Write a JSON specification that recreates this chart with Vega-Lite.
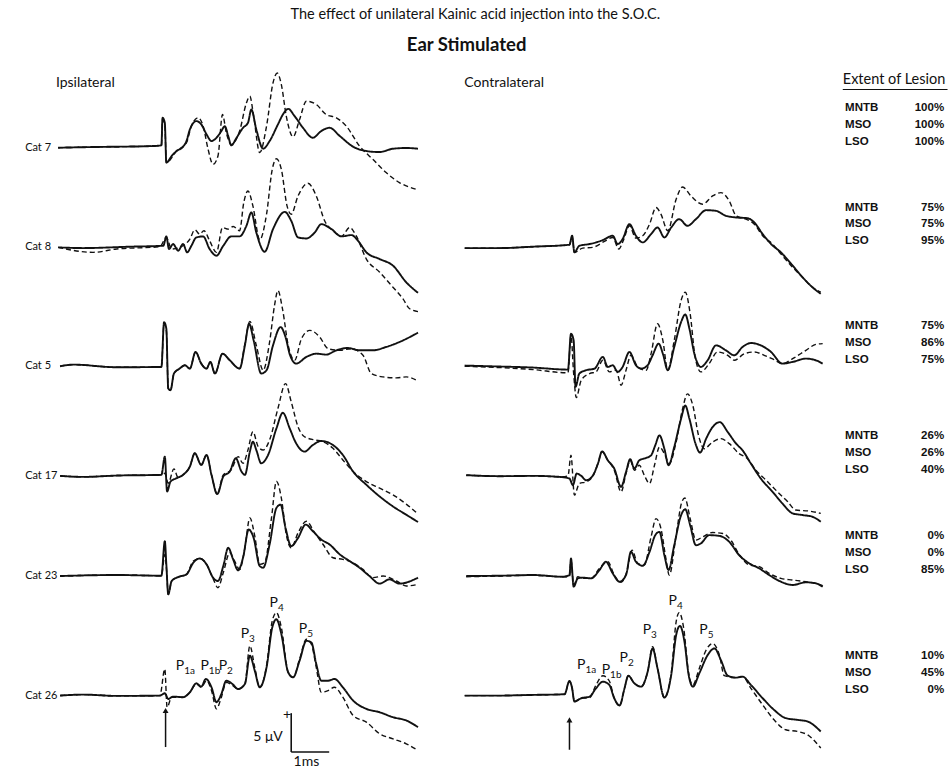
{
"$schema":"https://vega.github.io/schema/vega-lite/v6.json",
"width":949,"height":770,
"autosize":{"type":"fit","contains":"padding"},
"padding":0,
"background":"white",
"config":{"view":{"stroke":null},"text":{"font":"Lato","color":"#111"}},
"datasets":{
"traces":[
{"cat":7,"side":"ipsi","rec":"post","t":-2.81,"v":0},{"cat":7,"side":"ipsi","rec":"post","t":-1.71,"v":0.1},{"cat":7,"side":"ipsi","rec":"post","t":-0.39,"v":0.2},{"cat":7,"side":"ipsi","rec":"post","t":-0.09,"v":0.3},{"cat":7,"side":"ipsi","rec":"post","t":-0.06,"v":3.85},{"cat":7,"side":"ipsi","rec":"post","t":0,"v":3.2},{"cat":7,"side":"ipsi","rec":"post","t":0.04,"v":-1.92},{"cat":7,"side":"ipsi","rec":"post","t":0.18,"v":-1.07},{"cat":7,"side":"ipsi","rec":"post","t":0.31,"v":-0.43},{"cat":7,"side":"ipsi","rec":"post","t":0.48,"v":0.13},{"cat":7,"side":"ipsi","rec":"post","t":0.57,"v":0.85},{"cat":7,"side":"ipsi","rec":"post","t":0.66,"v":2.35},{"cat":7,"side":"ipsi","rec":"post","t":0.83,"v":3.42},{"cat":7,"side":"ipsi","rec":"post","t":0.96,"v":3.0},{"cat":7,"side":"ipsi","rec":"post","t":1.10,"v":1.71},{"cat":7,"side":"ipsi","rec":"post","t":1.23,"v":0.85},{"cat":7,"side":"ipsi","rec":"post","t":1.36,"v":1.28},{"cat":7,"side":"ipsi","rec":"post","t":1.49,"v":2.14},{"cat":7,"side":"ipsi","rec":"post","t":1.58,"v":2.78},{"cat":7,"side":"ipsi","rec":"post","t":1.67,"v":1.5},{"cat":7,"side":"ipsi","rec":"post","t":1.75,"v":0.3},{"cat":7,"side":"ipsi","rec":"post","t":1.89,"v":1.28},{"cat":7,"side":"ipsi","rec":"post","t":2.06,"v":2.56},{"cat":7,"side":"ipsi","rec":"post","t":2.19,"v":3.2},{"cat":7,"side":"ipsi","rec":"post","t":2.28,"v":4.91},{"cat":7,"side":"ipsi","rec":"post","t":2.41,"v":2.35},{"cat":7,"side":"ipsi","rec":"post","t":2.59,"v":-0.13},{"cat":7,"side":"ipsi","rec":"post","t":2.76,"v":0.85},{"cat":7,"side":"ipsi","rec":"post","t":2.98,"v":3.0},{"cat":7,"side":"ipsi","rec":"post","t":3.11,"v":4.27},{"cat":7,"side":"ipsi","rec":"post","t":3.25,"v":5.0},{"cat":7,"side":"ipsi","rec":"post","t":3.42,"v":4.06},{"cat":7,"side":"ipsi","rec":"post","t":3.64,"v":2.56},{"cat":7,"side":"ipsi","rec":"post","t":3.90,"v":1.28},{"cat":7,"side":"ipsi","rec":"post","t":4.12,"v":2.14},{"cat":7,"side":"ipsi","rec":"post","t":4.34,"v":2.56},{"cat":7,"side":"ipsi","rec":"post","t":4.61,"v":1.5},{"cat":7,"side":"ipsi","rec":"post","t":4.96,"v":0.13},{"cat":7,"side":"ipsi","rec":"post","t":5.31,"v":-0.43},{"cat":7,"side":"ipsi","rec":"post","t":5.66,"v":-0.56},{"cat":7,"side":"ipsi","rec":"post","t":6.01,"v":-0.13},{"cat":7,"side":"ipsi","rec":"post","t":6.36,"v":-0.04},{"cat":7,"side":"ipsi","rec":"post","t":6.67,"v":-0.13},
{"cat":7,"side":"ipsi","rec":"pre","t":-2.81,"v":0},{"cat":7,"side":"ipsi","rec":"pre","t":-1.71,"v":0.1},{"cat":7,"side":"ipsi","rec":"pre","t":-0.39,"v":0.2},{"cat":7,"side":"ipsi","rec":"pre","t":-0.09,"v":0.3},{"cat":7,"side":"ipsi","rec":"pre","t":-0.06,"v":3.6},{"cat":7,"side":"ipsi","rec":"pre","t":0,"v":3.0},{"cat":7,"side":"ipsi","rec":"pre","t":0.04,"v":-1.92},{"cat":7,"side":"ipsi","rec":"pre","t":0.31,"v":-0.43},{"cat":7,"side":"ipsi","rec":"pre","t":0.57,"v":0.64},{"cat":7,"side":"ipsi","rec":"pre","t":0.70,"v":2.78},{"cat":7,"side":"ipsi","rec":"pre","t":0.88,"v":3.85},{"cat":7,"side":"ipsi","rec":"pre","t":1.01,"v":2.78},{"cat":7,"side":"ipsi","rec":"pre","t":1.14,"v":-0.21},{"cat":7,"side":"ipsi","rec":"pre","t":1.27,"v":-2.14},{"cat":7,"side":"ipsi","rec":"pre","t":1.40,"v":-1.07},{"cat":7,"side":"ipsi","rec":"pre","t":1.52,"v":4.27},{"cat":7,"side":"ipsi","rec":"pre","t":1.62,"v":1.92},{"cat":7,"side":"ipsi","rec":"pre","t":1.75,"v":0.43},{"cat":7,"side":"ipsi","rec":"pre","t":1.97,"v":2.14},{"cat":7,"side":"ipsi","rec":"pre","t":2.15,"v":5.77},{"cat":7,"side":"ipsi","rec":"pre","t":2.24,"v":6.62},{"cat":7,"side":"ipsi","rec":"pre","t":2.34,"v":4.06},{"cat":7,"side":"ipsi","rec":"pre","t":2.50,"v":-0.64},{"cat":7,"side":"ipsi","rec":"pre","t":2.68,"v":2.78},{"cat":7,"side":"ipsi","rec":"pre","t":2.85,"v":8.33},{"cat":7,"side":"ipsi","rec":"pre","t":2.96,"v":9.62},{"cat":7,"side":"ipsi","rec":"pre","t":3.07,"v":8.12},{"cat":7,"side":"ipsi","rec":"pre","t":3.20,"v":4.06},{"cat":7,"side":"ipsi","rec":"pre","t":3.38,"v":1.41},{"cat":7,"side":"ipsi","rec":"pre","t":3.55,"v":3.63},{"cat":7,"side":"ipsi","rec":"pre","t":3.73,"v":5.98},{"cat":7,"side":"ipsi","rec":"pre","t":3.99,"v":5.56},{"cat":7,"side":"ipsi","rec":"pre","t":4.25,"v":4.27},{"cat":7,"side":"ipsi","rec":"pre","t":4.52,"v":3.85},{"cat":7,"side":"ipsi","rec":"pre","t":4.78,"v":2.78},{"cat":7,"side":"ipsi","rec":"pre","t":5.13,"v":0.21},{"cat":7,"side":"ipsi","rec":"pre","t":5.48,"v":-1.5},{"cat":7,"side":"ipsi","rec":"pre","t":5.83,"v":-3.2},{"cat":7,"side":"ipsi","rec":"pre","t":6.18,"v":-4.49},{"cat":7,"side":"ipsi","rec":"pre","t":6.62,"v":-5.34},
{"cat":8,"side":"ipsi","rec":"post","t":-2.81,"v":0},{"cat":8,"side":"ipsi","rec":"post","t":-2.15,"v":-0.09},{"cat":8,"side":"ipsi","rec":"post","t":-0.92,"v":0.09},{"cat":8,"side":"ipsi","rec":"post","t":-0.04,"v":0.21},{"cat":8,"side":"ipsi","rec":"post","t":0.04,"v":1.41},{"cat":8,"side":"ipsi","rec":"post","t":0.11,"v":-0.21},{"cat":8,"side":"ipsi","rec":"post","t":0.22,"v":0.43},{"cat":8,"side":"ipsi","rec":"post","t":0.35,"v":-0.43},{"cat":8,"side":"ipsi","rec":"post","t":0.48,"v":0.43},{"cat":8,"side":"ipsi","rec":"post","t":0.59,"v":-0.64},{"cat":8,"side":"ipsi","rec":"post","t":0.70,"v":0.21},{"cat":8,"side":"ipsi","rec":"post","t":0.83,"v":1.28},{"cat":8,"side":"ipsi","rec":"post","t":1.01,"v":1.41},{"cat":8,"side":"ipsi","rec":"post","t":1.18,"v":-0.21},{"cat":8,"side":"ipsi","rec":"post","t":1.36,"v":-1.07},{"cat":8,"side":"ipsi","rec":"post","t":1.54,"v":0.21},{"cat":8,"side":"ipsi","rec":"post","t":1.75,"v":1.41},{"cat":8,"side":"ipsi","rec":"post","t":1.97,"v":1.41},{"cat":8,"side":"ipsi","rec":"post","t":2.15,"v":2.78},{"cat":8,"side":"ipsi","rec":"post","t":2.28,"v":4.49},{"cat":8,"side":"ipsi","rec":"post","t":2.41,"v":1.92},{"cat":8,"side":"ipsi","rec":"post","t":2.63,"v":-0.56},{"cat":8,"side":"ipsi","rec":"post","t":2.85,"v":2.35},{"cat":8,"side":"ipsi","rec":"post","t":3.16,"v":4.57},{"cat":8,"side":"ipsi","rec":"post","t":3.33,"v":3.42},{"cat":8,"side":"ipsi","rec":"post","t":3.51,"v":1.28},{"cat":8,"side":"ipsi","rec":"post","t":3.73,"v":1.15},{"cat":8,"side":"ipsi","rec":"post","t":3.95,"v":1.92},{"cat":8,"side":"ipsi","rec":"post","t":4.12,"v":2.99},{"cat":8,"side":"ipsi","rec":"post","t":4.39,"v":2.35},{"cat":8,"side":"ipsi","rec":"post","t":4.65,"v":1.41},{"cat":8,"side":"ipsi","rec":"post","t":4.92,"v":1.58},{"cat":8,"side":"ipsi","rec":"post","t":5.09,"v":0.85},{"cat":8,"side":"ipsi","rec":"post","t":5.31,"v":-0.64},{"cat":8,"side":"ipsi","rec":"post","t":5.66,"v":-1.5},{"cat":8,"side":"ipsi","rec":"post","t":6.01,"v":-2.35},{"cat":8,"side":"ipsi","rec":"post","t":6.36,"v":-4.49},{"cat":8,"side":"ipsi","rec":"post","t":6.67,"v":-5.85},
{"cat":8,"side":"ipsi","rec":"pre","t":-2.81,"v":0},{"cat":8,"side":"ipsi","rec":"pre","t":-1.89,"v":-0.64},{"cat":8,"side":"ipsi","rec":"pre","t":-1.27,"v":-0.21},{"cat":8,"side":"ipsi","rec":"pre","t":-0.13,"v":0.09},{"cat":8,"side":"ipsi","rec":"pre","t":0.04,"v":1.28},{"cat":8,"side":"ipsi","rec":"pre","t":0.18,"v":-0.21},{"cat":8,"side":"ipsi","rec":"pre","t":0.48,"v":0.21},{"cat":8,"side":"ipsi","rec":"pre","t":0.66,"v":1.07},{"cat":8,"side":"ipsi","rec":"pre","t":0.79,"v":2.26},{"cat":8,"side":"ipsi","rec":"pre","t":0.92,"v":1.71},{"cat":8,"side":"ipsi","rec":"pre","t":1.03,"v":2.14},{"cat":8,"side":"ipsi","rec":"pre","t":1.18,"v":0.85},{"cat":8,"side":"ipsi","rec":"pre","t":1.36,"v":-0.64},{"cat":8,"side":"ipsi","rec":"pre","t":1.52,"v":2.56},{"cat":8,"side":"ipsi","rec":"pre","t":1.67,"v":2.35},{"cat":8,"side":"ipsi","rec":"pre","t":1.80,"v":2.69},{"cat":8,"side":"ipsi","rec":"pre","t":1.97,"v":2.14},{"cat":8,"side":"ipsi","rec":"pre","t":2.08,"v":5.77},{"cat":8,"side":"ipsi","rec":"pre","t":2.19,"v":7.26},{"cat":8,"side":"ipsi","rec":"pre","t":2.32,"v":5.34},{"cat":8,"side":"ipsi","rec":"pre","t":2.50,"v":0.98},{"cat":8,"side":"ipsi","rec":"pre","t":2.68,"v":4.27},{"cat":8,"side":"ipsi","rec":"pre","t":2.83,"v":10.04},{"cat":8,"side":"ipsi","rec":"pre","t":2.94,"v":11.41},{"cat":8,"side":"ipsi","rec":"pre","t":3.07,"v":10.04},{"cat":8,"side":"ipsi","rec":"pre","t":3.22,"v":5.34},{"cat":8,"side":"ipsi","rec":"pre","t":3.33,"v":4.27},{"cat":8,"side":"ipsi","rec":"pre","t":3.51,"v":6.62},{"cat":8,"side":"ipsi","rec":"pre","t":3.77,"v":8.25},{"cat":8,"side":"ipsi","rec":"pre","t":3.99,"v":6.62},{"cat":8,"side":"ipsi","rec":"pre","t":4.21,"v":3.42},{"cat":8,"side":"ipsi","rec":"pre","t":4.43,"v":2.14},{"cat":8,"side":"ipsi","rec":"pre","t":4.65,"v":1.41},{"cat":8,"side":"ipsi","rec":"pre","t":4.87,"v":2.56},{"cat":8,"side":"ipsi","rec":"pre","t":5.04,"v":1.5},{"cat":8,"side":"ipsi","rec":"pre","t":5.31,"v":-1.5},{"cat":8,"side":"ipsi","rec":"pre","t":5.66,"v":-3.2},{"cat":8,"side":"ipsi","rec":"pre","t":6.01,"v":-5.13},{"cat":8,"side":"ipsi","rec":"pre","t":6.27,"v":-6.6},{"cat":8,"side":"ipsi","rec":"pre","t":6.45,"v":-7.9},{"cat":8,"side":"ipsi","rec":"pre","t":6.71,"v":-8.3},
{"cat":5,"side":"ipsi","rec":"post","t":-2.76,"v":0},{"cat":5,"side":"ipsi","rec":"post","t":-2.41,"v":0.21},{"cat":5,"side":"ipsi","rec":"post","t":-1.27,"v":-0.13},{"cat":5,"side":"ipsi","rec":"post","t":-0.09,"v":-0.09},{"cat":5,"side":"ipsi","rec":"post","t":-0.02,"v":5.68},{"cat":5,"side":"ipsi","rec":"post","t":0.04,"v":4.83},{"cat":5,"side":"ipsi","rec":"post","t":0.09,"v":-2.86},{"cat":5,"side":"ipsi","rec":"post","t":0.15,"v":-3.08},{"cat":5,"side":"ipsi","rec":"post","t":0.24,"v":-0.94},{"cat":5,"side":"ipsi","rec":"post","t":0.39,"v":-0.3},{"cat":5,"side":"ipsi","rec":"post","t":0.53,"v":0.13},{"cat":5,"side":"ipsi","rec":"post","t":0.66,"v":-0.3},{"cat":5,"side":"ipsi","rec":"post","t":0.81,"v":1.84},{"cat":5,"side":"ipsi","rec":"post","t":0.96,"v":0.34},{"cat":5,"side":"ipsi","rec":"post","t":1.10,"v":-0.3},{"cat":5,"side":"ipsi","rec":"post","t":1.20,"v":0.56},{"cat":5,"side":"ipsi","rec":"post","t":1.32,"v":-0.94},{"cat":5,"side":"ipsi","rec":"post","t":1.52,"v":1.62},{"cat":5,"side":"ipsi","rec":"post","t":1.71,"v":0.77},{"cat":5,"side":"ipsi","rec":"post","t":1.97,"v":-0.3},{"cat":5,"side":"ipsi","rec":"post","t":2.11,"v":2.69},{"cat":5,"side":"ipsi","rec":"post","t":2.22,"v":5.47},{"cat":5,"side":"ipsi","rec":"post","t":2.34,"v":3.33},{"cat":5,"side":"ipsi","rec":"post","t":2.54,"v":-0.94},{"cat":5,"side":"ipsi","rec":"post","t":2.68,"v":-0.51},{"cat":5,"side":"ipsi","rec":"post","t":2.85,"v":2.69},{"cat":5,"side":"ipsi","rec":"post","t":3.05,"v":5.04},{"cat":5,"side":"ipsi","rec":"post","t":3.18,"v":3.76},{"cat":5,"side":"ipsi","rec":"post","t":3.30,"v":1.41},{"cat":5,"side":"ipsi","rec":"post","t":3.46,"v":0.34},{"cat":5,"side":"ipsi","rec":"post","t":3.73,"v":1.2},{"cat":5,"side":"ipsi","rec":"post","t":3.99,"v":1.62},{"cat":5,"side":"ipsi","rec":"post","t":4.25,"v":1.5},{"cat":5,"side":"ipsi","rec":"post","t":4.52,"v":2.05},{"cat":5,"side":"ipsi","rec":"post","t":4.82,"v":2.35},{"cat":5,"side":"ipsi","rec":"post","t":5.13,"v":2.05},{"cat":5,"side":"ipsi","rec":"post","t":5.48,"v":2.05},{"cat":5,"side":"ipsi","rec":"post","t":5.83,"v":2.48},{"cat":5,"side":"ipsi","rec":"post","t":6.18,"v":3.12},{"cat":5,"side":"ipsi","rec":"post","t":6.67,"v":4.32},
{"cat":5,"side":"ipsi","rec":"pre","t":-2.76,"v":0},{"cat":5,"side":"ipsi","rec":"pre","t":-2.41,"v":0.21},{"cat":5,"side":"ipsi","rec":"pre","t":-1.27,"v":-0.13},{"cat":5,"side":"ipsi","rec":"pre","t":-0.09,"v":-0.09},{"cat":5,"side":"ipsi","rec":"pre","t":-0.02,"v":5.5},{"cat":5,"side":"ipsi","rec":"pre","t":0.04,"v":4.6},{"cat":5,"side":"ipsi","rec":"pre","t":0.09,"v":-2.86},{"cat":5,"side":"ipsi","rec":"pre","t":0.15,"v":-3.08},{"cat":5,"side":"ipsi","rec":"pre","t":0.24,"v":-0.94},{"cat":5,"side":"ipsi","rec":"pre","t":0.39,"v":-0.3},{"cat":5,"side":"ipsi","rec":"pre","t":0.53,"v":0.13},{"cat":5,"side":"ipsi","rec":"pre","t":0.66,"v":-0.3},{"cat":5,"side":"ipsi","rec":"pre","t":0.81,"v":1.84},{"cat":5,"side":"ipsi","rec":"pre","t":0.96,"v":0.34},{"cat":5,"side":"ipsi","rec":"pre","t":1.10,"v":-0.3},{"cat":5,"side":"ipsi","rec":"pre","t":1.20,"v":0.56},{"cat":5,"side":"ipsi","rec":"pre","t":1.32,"v":-0.94},{"cat":5,"side":"ipsi","rec":"pre","t":1.52,"v":1.62},{"cat":5,"side":"ipsi","rec":"pre","t":1.71,"v":0.77},{"cat":5,"side":"ipsi","rec":"pre","t":1.97,"v":-0.3},{"cat":5,"side":"ipsi","rec":"pre","t":2.11,"v":2.9},{"cat":5,"side":"ipsi","rec":"pre","t":2.24,"v":5.77},{"cat":5,"side":"ipsi","rec":"pre","t":2.41,"v":2.69},{"cat":5,"side":"ipsi","rec":"pre","t":2.59,"v":-0.51},{"cat":5,"side":"ipsi","rec":"pre","t":2.76,"v":3.12},{"cat":5,"side":"ipsi","rec":"pre","t":2.89,"v":7.82},{"cat":5,"side":"ipsi","rec":"pre","t":2.98,"v":9.74},{"cat":5,"side":"ipsi","rec":"pre","t":3.10,"v":7.39},{"cat":5,"side":"ipsi","rec":"pre","t":3.25,"v":2.69},{"cat":5,"side":"ipsi","rec":"pre","t":3.42,"v":0.77},{"cat":5,"side":"ipsi","rec":"pre","t":3.60,"v":3.55},{"cat":5,"side":"ipsi","rec":"pre","t":3.82,"v":4.62},{"cat":5,"side":"ipsi","rec":"pre","t":4.08,"v":3.76},{"cat":5,"side":"ipsi","rec":"pre","t":4.30,"v":2.26},{"cat":5,"side":"ipsi","rec":"pre","t":4.61,"v":2.05},{"cat":5,"side":"ipsi","rec":"pre","t":4.91,"v":2.26},{"cat":5,"side":"ipsi","rec":"pre","t":5.22,"v":1.41},{"cat":5,"side":"ipsi","rec":"pre","t":5.44,"v":-0.94},{"cat":5,"side":"ipsi","rec":"pre","t":5.75,"v":-1.37},{"cat":5,"side":"ipsi","rec":"pre","t":6.10,"v":-1.5},{"cat":5,"side":"ipsi","rec":"pre","t":6.36,"v":-1.37},{"cat":5,"side":"ipsi","rec":"pre","t":6.67,"v":-1.92},
{"cat":17,"side":"ipsi","rec":"post","t":-2.76,"v":0},{"cat":17,"side":"ipsi","rec":"post","t":-2.15,"v":-0.13},{"cat":17,"side":"ipsi","rec":"post","t":-1.27,"v":0.04},{"cat":17,"side":"ipsi","rec":"post","t":-0.09,"v":0.13},{"cat":17,"side":"ipsi","rec":"post","t":0,"v":2.48},{"cat":17,"side":"ipsi","rec":"post","t":0.06,"v":-2.01},{"cat":17,"side":"ipsi","rec":"post","t":0.15,"v":-0.73},{"cat":17,"side":"ipsi","rec":"post","t":0.31,"v":-0.3},{"cat":17,"side":"ipsi","rec":"post","t":0.48,"v":0.13},{"cat":17,"side":"ipsi","rec":"post","t":0.66,"v":1.2},{"cat":17,"side":"ipsi","rec":"post","t":0.79,"v":2.91},{"cat":17,"side":"ipsi","rec":"post","t":0.96,"v":1.41},{"cat":17,"side":"ipsi","rec":"post","t":1.10,"v":2.69},{"cat":17,"side":"ipsi","rec":"post","t":1.23,"v":0.13},{"cat":17,"side":"ipsi","rec":"post","t":1.38,"v":-2.35},{"cat":17,"side":"ipsi","rec":"post","t":1.54,"v":-0.09},{"cat":17,"side":"ipsi","rec":"post","t":1.71,"v":0.56},{"cat":17,"side":"ipsi","rec":"post","t":1.87,"v":2.26},{"cat":17,"side":"ipsi","rec":"post","t":2.02,"v":0.56},{"cat":17,"side":"ipsi","rec":"post","t":2.11,"v":0.13},{"cat":17,"side":"ipsi","rec":"post","t":2.24,"v":3.12},{"cat":17,"side":"ipsi","rec":"post","t":2.32,"v":4.4},{"cat":17,"side":"ipsi","rec":"post","t":2.41,"v":3.33},{"cat":17,"side":"ipsi","rec":"post","t":2.54,"v":1.62},{"cat":17,"side":"ipsi","rec":"post","t":2.72,"v":2.69},{"cat":17,"side":"ipsi","rec":"post","t":2.94,"v":6.11},{"cat":17,"side":"ipsi","rec":"post","t":3.11,"v":8.12},{"cat":17,"side":"ipsi","rec":"post","t":3.29,"v":6.11},{"cat":17,"side":"ipsi","rec":"post","t":3.46,"v":4.19},{"cat":17,"side":"ipsi","rec":"post","t":3.68,"v":3.12},{"cat":17,"side":"ipsi","rec":"post","t":3.90,"v":3.97},{"cat":17,"side":"ipsi","rec":"post","t":4.12,"v":4.49},{"cat":17,"side":"ipsi","rec":"post","t":4.43,"v":3.97},{"cat":17,"side":"ipsi","rec":"post","t":4.69,"v":2.69},{"cat":17,"side":"ipsi","rec":"post","t":4.96,"v":0.56},{"cat":17,"side":"ipsi","rec":"post","t":5.31,"v":-1.15},{"cat":17,"side":"ipsi","rec":"post","t":5.66,"v":-2.65},{"cat":17,"side":"ipsi","rec":"post","t":6.01,"v":-3.93},{"cat":17,"side":"ipsi","rec":"post","t":6.36,"v":-5.0},{"cat":17,"side":"ipsi","rec":"post","t":6.67,"v":-5.94},
{"cat":17,"side":"ipsi","rec":"pre","t":-2.76,"v":0},{"cat":17,"side":"ipsi","rec":"pre","t":-2.15,"v":-0.13},{"cat":17,"side":"ipsi","rec":"pre","t":-1.27,"v":0.04},{"cat":17,"side":"ipsi","rec":"pre","t":-0.09,"v":0.13},{"cat":17,"side":"ipsi","rec":"pre","t":0,"v":0.34},{"cat":17,"side":"ipsi","rec":"pre","t":0.09,"v":-0.94},{"cat":17,"side":"ipsi","rec":"pre","t":0.24,"v":0.9},{"cat":17,"side":"ipsi","rec":"pre","t":0.35,"v":-0.21},{"cat":17,"side":"ipsi","rec":"pre","t":0.48,"v":0.13},{"cat":17,"side":"ipsi","rec":"pre","t":0.66,"v":1.2},{"cat":17,"side":"ipsi","rec":"pre","t":0.79,"v":2.91},{"cat":17,"side":"ipsi","rec":"pre","t":0.96,"v":1.41},{"cat":17,"side":"ipsi","rec":"pre","t":1.10,"v":2.69},{"cat":17,"side":"ipsi","rec":"pre","t":1.23,"v":0.13},{"cat":17,"side":"ipsi","rec":"pre","t":1.38,"v":-2.35},{"cat":17,"side":"ipsi","rec":"pre","t":1.54,"v":0.13},{"cat":17,"side":"ipsi","rec":"pre","t":1.75,"v":0.77},{"cat":17,"side":"ipsi","rec":"pre","t":1.93,"v":2.48},{"cat":17,"side":"ipsi","rec":"pre","t":2.06,"v":1.62},{"cat":17,"side":"ipsi","rec":"pre","t":2.19,"v":3.33},{"cat":17,"side":"ipsi","rec":"pre","t":2.32,"v":5.68},{"cat":17,"side":"ipsi","rec":"pre","t":2.46,"v":3.76},{"cat":17,"side":"ipsi","rec":"pre","t":2.59,"v":3.33},{"cat":17,"side":"ipsi","rec":"pre","t":2.76,"v":4.62},{"cat":17,"side":"ipsi","rec":"pre","t":2.98,"v":8.68},{"cat":17,"side":"ipsi","rec":"pre","t":3.18,"v":11.88},{"cat":17,"side":"ipsi","rec":"pre","t":3.33,"v":9.53},{"cat":17,"side":"ipsi","rec":"pre","t":3.51,"v":6.32},{"cat":17,"side":"ipsi","rec":"pre","t":3.68,"v":5.04},{"cat":17,"side":"ipsi","rec":"pre","t":3.95,"v":4.62},{"cat":17,"side":"ipsi","rec":"pre","t":4.17,"v":4.4},{"cat":17,"side":"ipsi","rec":"pre","t":4.43,"v":3.55},{"cat":17,"side":"ipsi","rec":"pre","t":4.69,"v":2.05},{"cat":17,"side":"ipsi","rec":"pre","t":4.96,"v":0.56},{"cat":17,"side":"ipsi","rec":"pre","t":5.31,"v":-0.73},{"cat":17,"side":"ipsi","rec":"pre","t":5.66,"v":-1.58},{"cat":17,"side":"ipsi","rec":"pre","t":6.01,"v":-2.44},{"cat":17,"side":"ipsi","rec":"pre","t":6.36,"v":-3.63},{"cat":17,"side":"ipsi","rec":"pre","t":6.67,"v":-4.91},
{"cat":23,"side":"ipsi","rec":"post","t":-2.76,"v":0},{"cat":23,"side":"ipsi","rec":"post","t":-1.27,"v":0.13},{"cat":23,"side":"ipsi","rec":"post","t":-0.09,"v":0.04},{"cat":23,"side":"ipsi","rec":"post","t":0,"v":4.49},{"cat":23,"side":"ipsi","rec":"post","t":0.04,"v":1.5},{"cat":23,"side":"ipsi","rec":"post","t":0.09,"v":-2.35},{"cat":23,"side":"ipsi","rec":"post","t":0.18,"v":-0.64},{"cat":23,"side":"ipsi","rec":"post","t":0.35,"v":-0.13},{"cat":23,"side":"ipsi","rec":"post","t":0.57,"v":0.21},{"cat":23,"side":"ipsi","rec":"post","t":0.75,"v":1.71},{"cat":23,"side":"ipsi","rec":"post","t":0.92,"v":2.26},{"cat":23,"side":"ipsi","rec":"post","t":1.10,"v":1.5},{"cat":23,"side":"ipsi","rec":"post","t":1.27,"v":-0.21},{"cat":23,"side":"ipsi","rec":"post","t":1.40,"v":-0.64},{"cat":23,"side":"ipsi","rec":"post","t":1.54,"v":1.28},{"cat":23,"side":"ipsi","rec":"post","t":1.67,"v":3.63},{"cat":23,"side":"ipsi","rec":"post","t":1.80,"v":2.14},{"cat":23,"side":"ipsi","rec":"post","t":1.93,"v":0.73},{"cat":23,"side":"ipsi","rec":"post","t":2.06,"v":2.35},{"cat":23,"side":"ipsi","rec":"post","t":2.21,"v":5.98},{"cat":23,"side":"ipsi","rec":"post","t":2.34,"v":4.91},{"cat":23,"side":"ipsi","rec":"post","t":2.50,"v":1.28},{"cat":23,"side":"ipsi","rec":"post","t":2.59,"v":1.07},{"cat":23,"side":"ipsi","rec":"post","t":2.76,"v":4.06},{"cat":23,"side":"ipsi","rec":"post","t":2.94,"v":8.76},{"cat":23,"side":"ipsi","rec":"post","t":3.05,"v":9.19},{"cat":23,"side":"ipsi","rec":"post","t":3.18,"v":6.2},{"cat":23,"side":"ipsi","rec":"post","t":3.33,"v":3.85},{"cat":23,"side":"ipsi","rec":"post","t":3.51,"v":4.91},{"cat":23,"side":"ipsi","rec":"post","t":3.71,"v":6.62},{"cat":23,"side":"ipsi","rec":"post","t":3.90,"v":5.77},{"cat":23,"side":"ipsi","rec":"post","t":4.12,"v":4.7},{"cat":23,"side":"ipsi","rec":"post","t":4.34,"v":4.06},{"cat":23,"side":"ipsi","rec":"post","t":4.61,"v":2.78},{"cat":23,"side":"ipsi","rec":"post","t":4.87,"v":1.92},{"cat":23,"side":"ipsi","rec":"post","t":5.13,"v":1.07},{"cat":23,"side":"ipsi","rec":"post","t":5.39,"v":0},{"cat":23,"side":"ipsi","rec":"post","t":5.66,"v":-0.98},{"cat":23,"side":"ipsi","rec":"post","t":5.92,"v":-0.43},{"cat":23,"side":"ipsi","rec":"post","t":6.18,"v":-0.98},{"cat":23,"side":"ipsi","rec":"post","t":6.67,"v":-0.21},
{"cat":23,"side":"ipsi","rec":"pre","t":-2.76,"v":0},{"cat":23,"side":"ipsi","rec":"pre","t":-1.27,"v":0.13},{"cat":23,"side":"ipsi","rec":"pre","t":-0.09,"v":0.04},{"cat":23,"side":"ipsi","rec":"pre","t":0,"v":2.78},{"cat":23,"side":"ipsi","rec":"pre","t":0.05,"v":0.5},{"cat":23,"side":"ipsi","rec":"pre","t":0.09,"v":-2.35},{"cat":23,"side":"ipsi","rec":"pre","t":0.18,"v":-0.64},{"cat":23,"side":"ipsi","rec":"pre","t":0.35,"v":-0.13},{"cat":23,"side":"ipsi","rec":"pre","t":0.57,"v":0.21},{"cat":23,"side":"ipsi","rec":"pre","t":0.75,"v":1.92},{"cat":23,"side":"ipsi","rec":"pre","t":0.92,"v":2.26},{"cat":23,"side":"ipsi","rec":"pre","t":1.10,"v":1.5},{"cat":23,"side":"ipsi","rec":"pre","t":1.27,"v":-0.3},{"cat":23,"side":"ipsi","rec":"pre","t":1.40,"v":-1.5},{"cat":23,"side":"ipsi","rec":"pre","t":1.54,"v":0.43},{"cat":23,"side":"ipsi","rec":"pre","t":1.71,"v":2.99},{"cat":23,"side":"ipsi","rec":"pre","t":1.84,"v":1.92},{"cat":23,"side":"ipsi","rec":"pre","t":1.97,"v":0.85},{"cat":23,"side":"ipsi","rec":"pre","t":2.11,"v":3.63},{"cat":23,"side":"ipsi","rec":"pre","t":2.24,"v":7.48},{"cat":23,"side":"ipsi","rec":"pre","t":2.37,"v":5.13},{"cat":23,"side":"ipsi","rec":"pre","t":2.50,"v":1.5},{"cat":23,"side":"ipsi","rec":"pre","t":2.63,"v":1.71},{"cat":23,"side":"ipsi","rec":"pre","t":2.81,"v":7.48},{"cat":23,"side":"ipsi","rec":"pre","t":2.94,"v":12.18},{"cat":23,"side":"ipsi","rec":"pre","t":3.07,"v":10.04},{"cat":23,"side":"ipsi","rec":"pre","t":3.20,"v":5.34},{"cat":23,"side":"ipsi","rec":"pre","t":3.33,"v":3.63},{"cat":23,"side":"ipsi","rec":"pre","t":3.51,"v":5.56},{"cat":23,"side":"ipsi","rec":"pre","t":3.73,"v":7.05},{"cat":23,"side":"ipsi","rec":"pre","t":3.95,"v":5.56},{"cat":23,"side":"ipsi","rec":"pre","t":4.17,"v":4.06},{"cat":23,"side":"ipsi","rec":"pre","t":4.43,"v":2.35},{"cat":23,"side":"ipsi","rec":"pre","t":4.69,"v":2.14},{"cat":23,"side":"ipsi","rec":"pre","t":4.96,"v":1.71},{"cat":23,"side":"ipsi","rec":"pre","t":5.22,"v":0.85},{"cat":23,"side":"ipsi","rec":"pre","t":5.48,"v":-0.21},{"cat":23,"side":"ipsi","rec":"pre","t":5.75,"v":0},{"cat":23,"side":"ipsi","rec":"pre","t":6.10,"v":-0.64},{"cat":23,"side":"ipsi","rec":"pre","t":6.36,"v":-1.28},{"cat":23,"side":"ipsi","rec":"pre","t":6.67,"v":-1.07},
{"cat":26,"side":"ipsi","rec":"post","t":-2.76,"v":0},{"cat":26,"side":"ipsi","rec":"post","t":-2.15,"v":0.13},{"cat":26,"side":"ipsi","rec":"post","t":-1.27,"v":-0.04},{"cat":26,"side":"ipsi","rec":"post","t":-0.13,"v":0},{"cat":26,"side":"ipsi","rec":"post","t":0,"v":0.3},{"cat":26,"side":"ipsi","rec":"post","t":0.09,"v":-0.43},{"cat":26,"side":"ipsi","rec":"post","t":0.22,"v":-0.13},{"cat":26,"side":"ipsi","rec":"post","t":0.48,"v":-0.21},{"cat":26,"side":"ipsi","rec":"post","t":0.66,"v":0.43},{"cat":26,"side":"ipsi","rec":"post","t":0.83,"v":1.58},{"cat":26,"side":"ipsi","rec":"post","t":0.96,"v":1.15},{"cat":26,"side":"ipsi","rec":"post","t":1.08,"v":2.14},{"cat":26,"side":"ipsi","rec":"post","t":1.23,"v":1.07},{"cat":26,"side":"ipsi","rec":"post","t":1.36,"v":-0.85},{"cat":26,"side":"ipsi","rec":"post","t":1.49,"v":0.21},{"cat":26,"side":"ipsi","rec":"post","t":1.62,"v":1.92},{"cat":26,"side":"ipsi","rec":"post","t":1.78,"v":1.5},{"cat":26,"side":"ipsi","rec":"post","t":1.93,"v":0.85},{"cat":26,"side":"ipsi","rec":"post","t":2.11,"v":1.5},{"cat":26,"side":"ipsi","rec":"post","t":2.24,"v":5.13},{"cat":26,"side":"ipsi","rec":"post","t":2.37,"v":3.2},{"cat":26,"side":"ipsi","rec":"post","t":2.50,"v":1.07},{"cat":26,"side":"ipsi","rec":"post","t":2.68,"v":3.63},{"cat":26,"side":"ipsi","rec":"post","t":2.83,"v":8.76},{"cat":26,"side":"ipsi","rec":"post","t":2.94,"v":9.83},{"cat":26,"side":"ipsi","rec":"post","t":3.07,"v":7.91},{"cat":26,"side":"ipsi","rec":"post","t":3.25,"v":2.99},{"cat":26,"side":"ipsi","rec":"post","t":3.38,"v":2.35},{"cat":26,"side":"ipsi","rec":"post","t":3.55,"v":4.49},{"cat":26,"side":"ipsi","rec":"post","t":3.73,"v":7.05},{"cat":26,"side":"ipsi","rec":"post","t":3.86,"v":6.84},{"cat":26,"side":"ipsi","rec":"post","t":3.99,"v":4.06},{"cat":26,"side":"ipsi","rec":"post","t":4.12,"v":1.92},{"cat":26,"side":"ipsi","rec":"post","t":4.30,"v":1.92},{"cat":26,"side":"ipsi","rec":"post","t":4.47,"v":2.14},{"cat":26,"side":"ipsi","rec":"post","t":4.69,"v":1.07},{"cat":26,"side":"ipsi","rec":"post","t":4.96,"v":-0.64},{"cat":26,"side":"ipsi","rec":"post","t":5.31,"v":-1.71},{"cat":26,"side":"ipsi","rec":"post","t":5.66,"v":-2.14},{"cat":26,"side":"ipsi","rec":"post","t":6.01,"v":-2.78},{"cat":26,"side":"ipsi","rec":"post","t":6.36,"v":-3.2},{"cat":26,"side":"ipsi","rec":"post","t":6.67,"v":-4.06},
{"cat":26,"side":"ipsi","rec":"pre","t":-2.76,"v":0},{"cat":26,"side":"ipsi","rec":"pre","t":-2.15,"v":0.13},{"cat":26,"side":"ipsi","rec":"pre","t":-1.27,"v":-0.04},{"cat":26,"side":"ipsi","rec":"pre","t":-0.13,"v":0},{"cat":26,"side":"ipsi","rec":"pre","t":0,"v":3.42},{"cat":26,"side":"ipsi","rec":"pre","t":0.06,"v":-1.5},{"cat":26,"side":"ipsi","rec":"pre","t":0.18,"v":-0.21},{"cat":26,"side":"ipsi","rec":"pre","t":0.48,"v":-0.21},{"cat":26,"side":"ipsi","rec":"pre","t":0.66,"v":0.43},{"cat":26,"side":"ipsi","rec":"pre","t":0.83,"v":1.5},{"cat":26,"side":"ipsi","rec":"pre","t":0.96,"v":1.07},{"cat":26,"side":"ipsi","rec":"pre","t":1.10,"v":1.92},{"cat":26,"side":"ipsi","rec":"pre","t":1.23,"v":0.64},{"cat":26,"side":"ipsi","rec":"pre","t":1.36,"v":-1.71},{"cat":26,"side":"ipsi","rec":"pre","t":1.49,"v":-0.21},{"cat":26,"side":"ipsi","rec":"pre","t":1.62,"v":1.71},{"cat":26,"side":"ipsi","rec":"pre","t":1.78,"v":1.3},{"cat":26,"side":"ipsi","rec":"pre","t":1.93,"v":0.85},{"cat":26,"side":"ipsi","rec":"pre","t":2.11,"v":1.5},{"cat":26,"side":"ipsi","rec":"pre","t":2.24,"v":6.41},{"cat":26,"side":"ipsi","rec":"pre","t":2.37,"v":3.63},{"cat":26,"side":"ipsi","rec":"pre","t":2.50,"v":1.07},{"cat":26,"side":"ipsi","rec":"pre","t":2.68,"v":3.85},{"cat":26,"side":"ipsi","rec":"pre","t":2.83,"v":9.62},{"cat":26,"side":"ipsi","rec":"pre","t":2.94,"v":10.68},{"cat":26,"side":"ipsi","rec":"pre","t":3.07,"v":8.76},{"cat":26,"side":"ipsi","rec":"pre","t":3.25,"v":2.99},{"cat":26,"side":"ipsi","rec":"pre","t":3.38,"v":2.35},{"cat":26,"side":"ipsi","rec":"pre","t":3.55,"v":4.7},{"cat":26,"side":"ipsi","rec":"pre","t":3.73,"v":7.26},{"cat":26,"side":"ipsi","rec":"pre","t":3.86,"v":6.62},{"cat":26,"side":"ipsi","rec":"pre","t":3.99,"v":3.63},{"cat":26,"side":"ipsi","rec":"pre","t":4.12,"v":0.43},{"cat":26,"side":"ipsi","rec":"pre","t":4.30,"v":0.64},{"cat":26,"side":"ipsi","rec":"pre","t":4.47,"v":1.07},{"cat":26,"side":"ipsi","rec":"pre","t":4.69,"v":-0.21},{"cat":26,"side":"ipsi","rec":"pre","t":4.96,"v":-2.56},{"cat":26,"side":"ipsi","rec":"pre","t":5.31,"v":-3.42},{"cat":26,"side":"ipsi","rec":"pre","t":5.66,"v":-4.91},{"cat":26,"side":"ipsi","rec":"pre","t":6.01,"v":-5.56},{"cat":26,"side":"ipsi","rec":"pre","t":6.36,"v":-6.2},{"cat":26,"side":"ipsi","rec":"pre","t":6.67,"v":-7.05},
{"cat":8,"side":"contra","rec":"post","t":-2.76,"v":-0.09},{"cat":8,"side":"contra","rec":"post","t":-1.84,"v":-0.09},{"cat":8,"side":"contra","rec":"post","t":-0.96,"v":0.09},{"cat":8,"side":"contra","rec":"post","t":0,"v":0.34},{"cat":8,"side":"contra","rec":"post","t":0.07,"v":1.5},{"cat":8,"side":"contra","rec":"post","t":0.13,"v":-0.64},{"cat":8,"side":"contra","rec":"post","t":0.26,"v":0.21},{"cat":8,"side":"contra","rec":"post","t":0.53,"v":0.43},{"cat":8,"side":"contra","rec":"post","t":0.88,"v":0.94},{"cat":8,"side":"contra","rec":"post","t":1.14,"v":1.5},{"cat":8,"side":"contra","rec":"post","t":1.27,"v":0.43},{"cat":8,"side":"contra","rec":"post","t":1.40,"v":1.07},{"cat":8,"side":"contra","rec":"post","t":1.58,"v":2.99},{"cat":8,"side":"contra","rec":"post","t":1.75,"v":1.5},{"cat":8,"side":"contra","rec":"post","t":1.93,"v":0.64},{"cat":8,"side":"contra","rec":"post","t":2.15,"v":1.71},{"cat":8,"side":"contra","rec":"post","t":2.32,"v":2.56},{"cat":8,"side":"contra","rec":"post","t":2.50,"v":1.28},{"cat":8,"side":"contra","rec":"post","t":2.68,"v":2.56},{"cat":8,"side":"contra","rec":"post","t":2.89,"v":3.63},{"cat":8,"side":"contra","rec":"post","t":3.11,"v":2.78},{"cat":8,"side":"contra","rec":"post","t":3.33,"v":3.63},{"cat":8,"side":"contra","rec":"post","t":3.60,"v":4.79},{"cat":8,"side":"contra","rec":"post","t":3.86,"v":4.7},{"cat":8,"side":"contra","rec":"post","t":4.12,"v":4.06},{"cat":8,"side":"contra","rec":"post","t":4.39,"v":3.85},{"cat":8,"side":"contra","rec":"post","t":4.69,"v":3.76},{"cat":8,"side":"contra","rec":"post","t":4.87,"v":3.2},{"cat":8,"side":"contra","rec":"post","t":5.09,"v":1.71},{"cat":8,"side":"contra","rec":"post","t":5.31,"v":0.43},{"cat":8,"side":"contra","rec":"post","t":5.57,"v":-0.64},{"cat":8,"side":"contra","rec":"post","t":5.88,"v":-2.35},{"cat":8,"side":"contra","rec":"post","t":6.14,"v":-3.85},{"cat":8,"side":"contra","rec":"post","t":6.40,"v":-5.13},{"cat":8,"side":"contra","rec":"post","t":6.62,"v":-5.98},
{"cat":8,"side":"contra","rec":"pre","t":-2.76,"v":-0.09},{"cat":8,"side":"contra","rec":"pre","t":-1.84,"v":-0.09},{"cat":8,"side":"contra","rec":"pre","t":-0.96,"v":0.09},{"cat":8,"side":"contra","rec":"pre","t":0,"v":0.34},{"cat":8,"side":"contra","rec":"pre","t":0.07,"v":1.4},{"cat":8,"side":"contra","rec":"pre","t":0.13,"v":-0.64},{"cat":8,"side":"contra","rec":"pre","t":0.35,"v":-0.09},{"cat":8,"side":"contra","rec":"pre","t":0.61,"v":0},{"cat":8,"side":"contra","rec":"pre","t":0.92,"v":0.77},{"cat":8,"side":"contra","rec":"pre","t":1.14,"v":1.28},{"cat":8,"side":"contra","rec":"pre","t":1.30,"v":-0.21},{"cat":8,"side":"contra","rec":"pre","t":1.42,"v":0.9},{"cat":8,"side":"contra","rec":"pre","t":1.58,"v":2.78},{"cat":8,"side":"contra","rec":"pre","t":1.75,"v":1.2},{"cat":8,"side":"contra","rec":"pre","t":1.93,"v":1.5},{"cat":8,"side":"contra","rec":"pre","t":2.11,"v":2.99},{"cat":8,"side":"contra","rec":"pre","t":2.28,"v":5.13},{"cat":8,"side":"contra","rec":"pre","t":2.41,"v":4.27},{"cat":8,"side":"contra","rec":"pre","t":2.59,"v":2.14},{"cat":8,"side":"contra","rec":"pre","t":2.81,"v":6.2},{"cat":8,"side":"contra","rec":"pre","t":2.98,"v":7.78},{"cat":8,"side":"contra","rec":"pre","t":3.20,"v":6.62},{"cat":8,"side":"contra","rec":"pre","t":3.51,"v":5.56},{"cat":8,"side":"contra","rec":"pre","t":3.77,"v":6.62},{"cat":8,"side":"contra","rec":"pre","t":3.99,"v":7.05},{"cat":8,"side":"contra","rec":"pre","t":4.21,"v":5.98},{"cat":8,"side":"contra","rec":"pre","t":4.39,"v":4.06},{"cat":8,"side":"contra","rec":"pre","t":4.65,"v":3.63},{"cat":8,"side":"contra","rec":"pre","t":4.87,"v":2.99},{"cat":8,"side":"contra","rec":"pre","t":5.09,"v":1.5},{"cat":8,"side":"contra","rec":"pre","t":5.35,"v":0.43},{"cat":8,"side":"contra","rec":"pre","t":5.61,"v":-1.07},{"cat":8,"side":"contra","rec":"pre","t":5.88,"v":-2.56},{"cat":8,"side":"contra","rec":"pre","t":6.14,"v":-3.85},{"cat":8,"side":"contra","rec":"pre","t":6.40,"v":-5.13},{"cat":8,"side":"contra","rec":"pre","t":6.62,"v":-5.77},
{"cat":5,"side":"contra","rec":"post","t":-2.76,"v":0.09},{"cat":5,"side":"contra","rec":"post","t":-2.11,"v":0},{"cat":5,"side":"contra","rec":"post","t":-0.96,"v":-0.17},{"cat":5,"side":"contra","rec":"post","t":-0.04,"v":-0.43},{"cat":5,"side":"contra","rec":"post","t":0.04,"v":4.19},{"cat":5,"side":"contra","rec":"post","t":0.11,"v":3.33},{"cat":5,"side":"contra","rec":"post","t":0.16,"v":-2.65},{"cat":5,"side":"contra","rec":"post","t":0.26,"v":-0.94},{"cat":5,"side":"contra","rec":"post","t":0.44,"v":-0.51},{"cat":5,"side":"contra","rec":"post","t":0.66,"v":-0.3},{"cat":5,"side":"contra","rec":"post","t":0.88,"v":1.2},{"cat":5,"side":"contra","rec":"post","t":1.01,"v":-0.09},{"cat":5,"side":"contra","rec":"post","t":1.14,"v":0.13},{"cat":5,"side":"contra","rec":"post","t":1.27,"v":-0.73},{"cat":5,"side":"contra","rec":"post","t":1.40,"v":-0.09},{"cat":5,"side":"contra","rec":"post","t":1.58,"v":1.84},{"cat":5,"side":"contra","rec":"post","t":1.75,"v":0.13},{"cat":5,"side":"contra","rec":"post","t":1.89,"v":-0.3},{"cat":5,"side":"contra","rec":"post","t":2.06,"v":0.13},{"cat":5,"side":"contra","rec":"post","t":2.19,"v":1.41},{"cat":5,"side":"contra","rec":"post","t":2.35,"v":2.91},{"cat":5,"side":"contra","rec":"post","t":2.46,"v":1.62},{"cat":5,"side":"contra","rec":"post","t":2.59,"v":-0.51},{"cat":5,"side":"contra","rec":"post","t":2.76,"v":2.48},{"cat":5,"side":"contra","rec":"post","t":2.94,"v":5.68},{"cat":5,"side":"contra","rec":"post","t":3.05,"v":6.67},{"cat":5,"side":"contra","rec":"post","t":3.16,"v":4.83},{"cat":5,"side":"contra","rec":"post","t":3.29,"v":1.62},{"cat":5,"side":"contra","rec":"post","t":3.46,"v":-0.09},{"cat":5,"side":"contra","rec":"post","t":3.64,"v":0.77},{"cat":5,"side":"contra","rec":"post","t":3.86,"v":2.69},{"cat":5,"side":"contra","rec":"post","t":4.12,"v":2.05},{"cat":5,"side":"contra","rec":"post","t":4.34,"v":1.41},{"cat":5,"side":"contra","rec":"post","t":4.56,"v":2.48},{"cat":5,"side":"contra","rec":"post","t":4.78,"v":2.99},{"cat":5,"side":"contra","rec":"post","t":5.04,"v":2.69},{"cat":5,"side":"contra","rec":"post","t":5.31,"v":1.84},{"cat":5,"side":"contra","rec":"post","t":5.61,"v":0.34},{"cat":5,"side":"contra","rec":"post","t":5.88,"v":0.56},{"cat":5,"side":"contra","rec":"post","t":6.23,"v":0.98},{"cat":5,"side":"contra","rec":"post","t":6.49,"v":0.77},{"cat":5,"side":"contra","rec":"post","t":6.67,"v":0.34},
{"cat":5,"side":"contra","rec":"pre","t":-2.76,"v":0},{"cat":5,"side":"contra","rec":"pre","t":-0.96,"v":-0.43},{"cat":5,"side":"contra","rec":"pre","t":-0.04,"v":-0.85},{"cat":5,"side":"contra","rec":"pre","t":0.04,"v":3.97},{"cat":5,"side":"contra","rec":"pre","t":0.11,"v":-0.94},{"cat":5,"side":"contra","rec":"pre","t":0.18,"v":-4.02},{"cat":5,"side":"contra","rec":"pre","t":0.31,"v":-1.79},{"cat":5,"side":"contra","rec":"pre","t":0.53,"v":-0.94},{"cat":5,"side":"contra","rec":"pre","t":0.70,"v":-0.73},{"cat":5,"side":"contra","rec":"pre","t":0.88,"v":0.77},{"cat":5,"side":"contra","rec":"pre","t":1.05,"v":-0.73},{"cat":5,"side":"contra","rec":"pre","t":1.23,"v":-0.51},{"cat":5,"side":"contra","rec":"pre","t":1.36,"v":-2.44},{"cat":5,"side":"contra","rec":"pre","t":1.49,"v":-0.51},{"cat":5,"side":"contra","rec":"pre","t":1.62,"v":1.41},{"cat":5,"side":"contra","rec":"pre","t":1.80,"v":-0.09},{"cat":5,"side":"contra","rec":"pre","t":2.02,"v":-0.51},{"cat":5,"side":"contra","rec":"pre","t":2.15,"v":1.62},{"cat":5,"side":"contra","rec":"pre","t":2.32,"v":5.47},{"cat":5,"side":"contra","rec":"pre","t":2.46,"v":3.33},{"cat":5,"side":"contra","rec":"pre","t":2.59,"v":-0.51},{"cat":5,"side":"contra","rec":"pre","t":2.76,"v":3.33},{"cat":5,"side":"contra","rec":"pre","t":2.94,"v":8.46},{"cat":5,"side":"contra","rec":"pre","t":3.05,"v":9.53},{"cat":5,"side":"contra","rec":"pre","t":3.18,"v":6.75},{"cat":5,"side":"contra","rec":"pre","t":3.31,"v":1.2},{"cat":5,"side":"contra","rec":"pre","t":3.46,"v":-0.73},{"cat":5,"side":"contra","rec":"pre","t":3.68,"v":0.34},{"cat":5,"side":"contra","rec":"pre","t":3.90,"v":1.84},{"cat":5,"side":"contra","rec":"pre","t":4.17,"v":1.41},{"cat":5,"side":"contra","rec":"pre","t":4.34,"v":0.77},{"cat":5,"side":"contra","rec":"pre","t":4.61,"v":1.62},{"cat":5,"side":"contra","rec":"pre","t":4.87,"v":1.84},{"cat":5,"side":"contra","rec":"pre","t":5.13,"v":1.41},{"cat":5,"side":"contra","rec":"pre","t":5.39,"v":0.85},{"cat":5,"side":"contra","rec":"pre","t":5.61,"v":0.34},{"cat":5,"side":"contra","rec":"pre","t":5.88,"v":0.98},{"cat":5,"side":"contra","rec":"pre","t":6.23,"v":2.05},{"cat":5,"side":"contra","rec":"pre","t":6.49,"v":2.82},{"cat":5,"side":"contra","rec":"pre","t":6.67,"v":2.91},
{"cat":17,"side":"contra","rec":"post","t":-2.72,"v":0.09},{"cat":17,"side":"contra","rec":"post","t":-1.84,"v":-0.04},{"cat":17,"side":"contra","rec":"post","t":-0.96,"v":0},{"cat":17,"side":"contra","rec":"post","t":-0.26,"v":-0.13},{"cat":17,"side":"contra","rec":"post","t":0,"v":-0.34},{"cat":17,"side":"contra","rec":"post","t":0.09,"v":-1.2},{"cat":17,"side":"contra","rec":"post","t":0.19,"v":0.3},{"cat":17,"side":"contra","rec":"post","t":0.31,"v":0},{"cat":17,"side":"contra","rec":"post","t":0.44,"v":-0.56},{"cat":17,"side":"contra","rec":"post","t":0.61,"v":0},{"cat":17,"side":"contra","rec":"post","t":0.75,"v":1.58},{"cat":17,"side":"contra","rec":"post","t":0.86,"v":3.16},{"cat":17,"side":"contra","rec":"post","t":1.01,"v":2.01},{"cat":17,"side":"contra","rec":"post","t":1.18,"v":0.94},{"cat":17,"side":"contra","rec":"post","t":1.36,"v":-1.41},{"cat":17,"side":"contra","rec":"post","t":1.49,"v":0.51},{"cat":17,"side":"contra","rec":"post","t":1.60,"v":2.14},{"cat":17,"side":"contra","rec":"post","t":1.71,"v":0.94},{"cat":17,"side":"contra","rec":"post","t":1.84,"v":2.01},{"cat":17,"side":"contra","rec":"post","t":2.02,"v":2.31},{"cat":17,"side":"contra","rec":"post","t":2.15,"v":2.65},{"cat":17,"side":"contra","rec":"post","t":2.26,"v":3.93},{"cat":17,"side":"contra","rec":"post","t":2.37,"v":5.21},{"cat":17,"side":"contra","rec":"post","t":2.50,"v":3.5},{"cat":17,"side":"contra","rec":"post","t":2.61,"v":1.37},{"cat":17,"side":"contra","rec":"post","t":2.76,"v":3.72},{"cat":17,"side":"contra","rec":"post","t":2.94,"v":7.35},{"cat":17,"side":"contra","rec":"post","t":3.05,"v":9.06},{"cat":17,"side":"contra","rec":"post","t":3.16,"v":7.35},{"cat":17,"side":"contra","rec":"post","t":3.32,"v":4.15},{"cat":17,"side":"contra","rec":"post","t":3.44,"v":2.99},{"cat":17,"side":"contra","rec":"post","t":3.60,"v":4.79},{"cat":17,"side":"contra","rec":"post","t":3.77,"v":6.28},{"cat":17,"side":"contra","rec":"post","t":3.96,"v":6.92},{"cat":17,"side":"contra","rec":"post","t":4.17,"v":5.64},{"cat":17,"side":"contra","rec":"post","t":4.39,"v":4.15},{"cat":17,"side":"contra","rec":"post","t":4.56,"v":3.29},{"cat":17,"side":"contra","rec":"post","t":4.78,"v":1.58},{"cat":17,"side":"contra","rec":"post","t":5.04,"v":-0.34},{"cat":17,"side":"contra","rec":"post","t":5.35,"v":-2.05},{"cat":17,"side":"contra","rec":"post","t":5.61,"v":-3.55},{"cat":17,"side":"contra","rec":"post","t":5.88,"v":-4.83},{"cat":17,"side":"contra","rec":"post","t":6.14,"v":-5.04},{"cat":17,"side":"contra","rec":"post","t":6.40,"v":-5.26},{"cat":17,"side":"contra","rec":"post","t":6.62,"v":-5.9},
{"cat":17,"side":"contra","rec":"pre","t":-2.72,"v":0.09},{"cat":17,"side":"contra","rec":"pre","t":-1.84,"v":-0.04},{"cat":17,"side":"contra","rec":"pre","t":-0.96,"v":0},{"cat":17,"side":"contra","rec":"pre","t":-0.26,"v":-0.13},{"cat":17,"side":"contra","rec":"pre","t":-0.04,"v":0},{"cat":17,"side":"contra","rec":"pre","t":0.04,"v":2.65},{"cat":17,"side":"contra","rec":"pre","t":0.13,"v":-2.48},{"cat":17,"side":"contra","rec":"pre","t":0.26,"v":-0.98},{"cat":17,"side":"contra","rec":"pre","t":0.44,"v":-0.77},{"cat":17,"side":"contra","rec":"pre","t":0.61,"v":-0.1},{"cat":17,"side":"contra","rec":"pre","t":0.75,"v":1.58},{"cat":17,"side":"contra","rec":"pre","t":0.86,"v":3.1},{"cat":17,"side":"contra","rec":"pre","t":1.01,"v":2.01},{"cat":17,"side":"contra","rec":"pre","t":1.18,"v":0.73},{"cat":17,"side":"contra","rec":"pre","t":1.36,"v":-2.05},{"cat":17,"side":"contra","rec":"pre","t":1.49,"v":0.3},{"cat":17,"side":"contra","rec":"pre","t":1.60,"v":2.0},{"cat":17,"side":"contra","rec":"pre","t":1.71,"v":0.73},{"cat":17,"side":"contra","rec":"pre","t":1.84,"v":1.37},{"cat":17,"side":"contra","rec":"pre","t":1.97,"v":0.09},{"cat":17,"side":"contra","rec":"pre","t":2.11,"v":-0.98},{"cat":17,"side":"contra","rec":"pre","t":2.24,"v":1.37},{"cat":17,"side":"contra","rec":"pre","t":2.37,"v":3.72},{"cat":17,"side":"contra","rec":"pre","t":2.50,"v":2.86},{"cat":17,"side":"contra","rec":"pre","t":2.63,"v":1.58},{"cat":17,"side":"contra","rec":"pre","t":2.81,"v":4.36},{"cat":17,"side":"contra","rec":"pre","t":2.98,"v":8.63},{"cat":17,"side":"contra","rec":"pre","t":3.11,"v":10.56},{"cat":17,"side":"contra","rec":"pre","t":3.25,"v":9.06},{"cat":17,"side":"contra","rec":"pre","t":3.40,"v":5.21},{"cat":17,"side":"contra","rec":"pre","t":3.55,"v":3.5},{"cat":17,"side":"contra","rec":"pre","t":3.77,"v":4.36},{"cat":17,"side":"contra","rec":"pre","t":3.99,"v":4.79},{"cat":17,"side":"contra","rec":"pre","t":4.21,"v":4.15},{"cat":17,"side":"contra","rec":"pre","t":4.47,"v":2.86},{"cat":17,"side":"contra","rec":"pre","t":4.69,"v":2.22},{"cat":17,"side":"contra","rec":"pre","t":4.91,"v":0.73},{"cat":17,"side":"contra","rec":"pre","t":5.18,"v":-0.56},{"cat":17,"side":"contra","rec":"pre","t":5.48,"v":-2.05},{"cat":17,"side":"contra","rec":"pre","t":5.75,"v":-3.33},{"cat":17,"side":"contra","rec":"pre","t":5.96,"v":-4.4},{"cat":17,"side":"contra","rec":"pre","t":6.32,"v":-4.53},{"cat":17,"side":"contra","rec":"pre","t":6.62,"v":-4.83},
{"cat":23,"side":"contra","rec":"post","t":-2.72,"v":0},{"cat":23,"side":"contra","rec":"post","t":-1.84,"v":0.04},{"cat":23,"side":"contra","rec":"post","t":-0.96,"v":0.13},{"cat":23,"side":"contra","rec":"post","t":-0.18,"v":-0.09},{"cat":23,"side":"contra","rec":"post","t":0,"v":0.13},{"cat":23,"side":"contra","rec":"post","t":0.04,"v":2.26},{"cat":23,"side":"contra","rec":"post","t":0.11,"v":-1.37},{"cat":23,"side":"contra","rec":"post","t":0.22,"v":-0.3},{"cat":23,"side":"contra","rec":"post","t":0.35,"v":-0.21},{"cat":23,"side":"contra","rec":"post","t":0.57,"v":-0.3},{"cat":23,"side":"contra","rec":"post","t":0.79,"v":0.77},{"cat":23,"side":"contra","rec":"post","t":0.96,"v":1.84},{"cat":23,"side":"contra","rec":"post","t":1.14,"v":0.34},{"cat":23,"side":"contra","rec":"post","t":1.32,"v":-0.73},{"cat":23,"side":"contra","rec":"post","t":1.49,"v":0.13},{"cat":23,"side":"contra","rec":"post","t":1.62,"v":3.12},{"cat":23,"side":"contra","rec":"post","t":1.75,"v":1.84},{"cat":23,"side":"contra","rec":"post","t":1.93,"v":1.32},{"cat":23,"side":"contra","rec":"post","t":2.11,"v":3.12},{"cat":23,"side":"contra","rec":"post","t":2.26,"v":5.26},{"cat":23,"side":"contra","rec":"post","t":2.37,"v":5.68},{"cat":23,"side":"contra","rec":"post","t":2.50,"v":2.69},{"cat":23,"side":"contra","rec":"post","t":2.61,"v":0.77},{"cat":23,"side":"contra","rec":"post","t":2.76,"v":3.97},{"cat":23,"side":"contra","rec":"post","t":2.94,"v":7.82},{"cat":23,"side":"contra","rec":"post","t":3.05,"v":8.59},{"cat":23,"side":"contra","rec":"post","t":3.18,"v":6.54},{"cat":23,"side":"contra","rec":"post","t":3.33,"v":3.97},{"cat":23,"side":"contra","rec":"post","t":3.46,"v":4.19},{"cat":23,"side":"contra","rec":"post","t":3.68,"v":5.26},{"cat":23,"side":"contra","rec":"post","t":3.95,"v":5.17},{"cat":23,"side":"contra","rec":"post","t":4.21,"v":4.4},{"cat":23,"side":"contra","rec":"post","t":4.47,"v":2.69},{"cat":23,"side":"contra","rec":"post","t":4.74,"v":1.62},{"cat":23,"side":"contra","rec":"post","t":5.0,"v":0.98},{"cat":23,"side":"contra","rec":"post","t":5.26,"v":0.13},{"cat":23,"side":"contra","rec":"post","t":5.57,"v":-0.73},{"cat":23,"side":"contra","rec":"post","t":5.88,"v":-1.15},{"cat":23,"side":"contra","rec":"post","t":6.23,"v":-0.81},{"cat":23,"side":"contra","rec":"post","t":6.49,"v":-0.94},{"cat":23,"side":"contra","rec":"post","t":6.67,"v":-1.37},
{"cat":23,"side":"contra","rec":"pre","t":-2.72,"v":-0.09},{"cat":23,"side":"contra","rec":"pre","t":-1.84,"v":0},{"cat":23,"side":"contra","rec":"pre","t":-0.96,"v":0.09},{"cat":23,"side":"contra","rec":"pre","t":-0.18,"v":-0.09},{"cat":23,"side":"contra","rec":"pre","t":0,"v":-0.09},{"cat":23,"side":"contra","rec":"pre","t":0.04,"v":2.05},{"cat":23,"side":"contra","rec":"pre","t":0.11,"v":-1.15},{"cat":23,"side":"contra","rec":"pre","t":0.22,"v":-0.09},{"cat":23,"side":"contra","rec":"pre","t":0.35,"v":-0.3},{"cat":23,"side":"contra","rec":"pre","t":0.57,"v":-0.3},{"cat":23,"side":"contra","rec":"pre","t":0.79,"v":0.98},{"cat":23,"side":"contra","rec":"pre","t":1.01,"v":1.84},{"cat":23,"side":"contra","rec":"pre","t":1.18,"v":0.13},{"cat":23,"side":"contra","rec":"pre","t":1.36,"v":-0.81},{"cat":23,"side":"contra","rec":"pre","t":1.51,"v":0.56},{"cat":23,"side":"contra","rec":"pre","t":1.65,"v":3.33},{"cat":23,"side":"contra","rec":"pre","t":1.80,"v":1.62},{"cat":23,"side":"contra","rec":"pre","t":1.97,"v":1.41},{"cat":23,"side":"contra","rec":"pre","t":2.15,"v":5.04},{"cat":23,"side":"contra","rec":"pre","t":2.28,"v":7.39},{"cat":23,"side":"contra","rec":"pre","t":2.41,"v":6.11},{"cat":23,"side":"contra","rec":"pre","t":2.54,"v":2.26},{"cat":23,"side":"contra","rec":"pre","t":2.63,"v":0.13},{"cat":23,"side":"contra","rec":"pre","t":2.81,"v":5.26},{"cat":23,"side":"contra","rec":"pre","t":2.96,"v":9.53},{"cat":23,"side":"contra","rec":"pre","t":3.04,"v":10.04},{"cat":23,"side":"contra","rec":"pre","t":3.18,"v":7.39},{"cat":23,"side":"contra","rec":"pre","t":3.33,"v":4.62},{"cat":23,"side":"contra","rec":"pre","t":3.51,"v":5.04},{"cat":23,"side":"contra","rec":"pre","t":3.77,"v":5.6},{"cat":23,"side":"contra","rec":"pre","t":4.04,"v":5.47},{"cat":23,"side":"contra","rec":"pre","t":4.25,"v":4.62},{"cat":23,"side":"contra","rec":"pre","t":4.47,"v":2.78},{"cat":23,"side":"contra","rec":"pre","t":4.74,"v":1.41},{"cat":23,"side":"contra","rec":"pre","t":5.0,"v":1.2},{"cat":23,"side":"contra","rec":"pre","t":5.26,"v":0.34},{"cat":23,"side":"contra","rec":"pre","t":5.57,"v":-0.3},{"cat":23,"side":"contra","rec":"pre","t":5.88,"v":-0.51},{"cat":23,"side":"contra","rec":"pre","t":6.23,"v":-0.73},{"cat":23,"side":"contra","rec":"pre","t":6.49,"v":-0.94},{"cat":23,"side":"contra","rec":"pre","t":6.67,"v":-1.24},
{"cat":26,"side":"contra","rec":"post","t":-2.76,"v":0},{"cat":26,"side":"contra","rec":"post","t":-1.84,"v":0},{"cat":26,"side":"contra","rec":"post","t":-0.96,"v":0.09},{"cat":26,"side":"contra","rec":"post","t":-0.13,"v":0.17},{"cat":26,"side":"contra","rec":"post","t":0,"v":1.88},{"cat":26,"side":"contra","rec":"post","t":0.07,"v":0.94},{"cat":26,"side":"contra","rec":"post","t":0.13,"v":-0.77},{"cat":26,"side":"contra","rec":"post","t":0.31,"v":-0.34},{"cat":26,"side":"contra","rec":"post","t":0.53,"v":-0.13},{"cat":26,"side":"contra","rec":"post","t":0.70,"v":0.94},{"cat":26,"side":"contra","rec":"post","t":0.88,"v":1.79},{"cat":26,"side":"contra","rec":"post","t":1.05,"v":1.37},{"cat":26,"side":"contra","rec":"post","t":1.18,"v":-0.34},{"cat":26,"side":"contra","rec":"post","t":1.32,"v":-1.28},{"cat":26,"side":"contra","rec":"post","t":1.45,"v":0.94},{"cat":26,"side":"contra","rec":"post","t":1.55,"v":2.56},{"cat":26,"side":"contra","rec":"post","t":1.71,"v":1.58},{"cat":26,"side":"contra","rec":"post","t":1.89,"v":1.15},{"cat":26,"side":"contra","rec":"post","t":2.06,"v":3.08},{"cat":26,"side":"contra","rec":"post","t":2.19,"v":6.07},{"cat":26,"side":"contra","rec":"post","t":2.32,"v":3.5},{"cat":26,"side":"contra","rec":"post","t":2.50,"v":-0.26},{"cat":26,"side":"contra","rec":"post","t":2.68,"v":2.65},{"cat":26,"side":"contra","rec":"post","t":2.81,"v":7.78},{"cat":26,"side":"contra","rec":"post","t":2.91,"v":8.97},{"cat":26,"side":"contra","rec":"post","t":3.03,"v":6.92},{"cat":26,"side":"contra","rec":"post","t":3.14,"v":2.65},{"cat":26,"side":"contra","rec":"post","t":3.25,"v":1.15},{"cat":26,"side":"contra","rec":"post","t":3.42,"v":2.86},{"cat":26,"side":"contra","rec":"post","t":3.64,"v":5.21},{"cat":26,"side":"contra","rec":"post","t":3.82,"v":6.07},{"cat":26,"side":"contra","rec":"post","t":3.99,"v":4.57},{"cat":26,"side":"contra","rec":"post","t":4.17,"v":2.56},{"cat":26,"side":"contra","rec":"post","t":4.39,"v":2.31},{"cat":26,"side":"contra","rec":"post","t":4.56,"v":2.44},{"cat":26,"side":"contra","rec":"post","t":4.78,"v":1.37},{"cat":26,"side":"contra","rec":"post","t":5.09,"v":-0.34},{"cat":26,"side":"contra","rec":"post","t":5.39,"v":-1.84},{"cat":26,"side":"contra","rec":"post","t":5.70,"v":-2.91},{"cat":26,"side":"contra","rec":"post","t":6.01,"v":-3.12},{"cat":26,"side":"contra","rec":"post","t":6.27,"v":-3.33},{"cat":26,"side":"contra","rec":"post","t":6.62,"v":-4.62},
{"cat":26,"side":"contra","rec":"pre","t":-2.76,"v":0},{"cat":26,"side":"contra","rec":"pre","t":-1.84,"v":0},{"cat":26,"side":"contra","rec":"pre","t":-0.96,"v":0.09},{"cat":26,"side":"contra","rec":"pre","t":-0.13,"v":0.17},{"cat":26,"side":"contra","rec":"pre","t":0,"v":1.88},{"cat":26,"side":"contra","rec":"pre","t":0.07,"v":0.94},{"cat":26,"side":"contra","rec":"pre","t":0.13,"v":-0.77},{"cat":26,"side":"contra","rec":"pre","t":0.31,"v":-0.34},{"cat":26,"side":"contra","rec":"pre","t":0.53,"v":-0.26},{"cat":26,"side":"contra","rec":"pre","t":0.70,"v":1.37},{"cat":26,"side":"contra","rec":"pre","t":0.88,"v":2.56},{"cat":26,"side":"contra","rec":"pre","t":1.05,"v":1.88},{"cat":26,"side":"contra","rec":"pre","t":1.18,"v":-0.34},{"cat":26,"side":"contra","rec":"pre","t":1.32,"v":-1.28},{"cat":26,"side":"contra","rec":"pre","t":1.45,"v":0.94},{"cat":26,"side":"contra","rec":"pre","t":1.55,"v":2.56},{"cat":26,"side":"contra","rec":"pre","t":1.71,"v":1.58},{"cat":26,"side":"contra","rec":"pre","t":1.89,"v":1.15},{"cat":26,"side":"contra","rec":"pre","t":2.06,"v":3.08},{"cat":26,"side":"contra","rec":"pre","t":2.19,"v":6.28},{"cat":26,"side":"contra","rec":"pre","t":2.32,"v":3.5},{"cat":26,"side":"contra","rec":"pre","t":2.50,"v":-0.26},{"cat":26,"side":"contra","rec":"pre","t":2.68,"v":2.86},{"cat":26,"side":"contra","rec":"pre","t":2.81,"v":9.49},{"cat":26,"side":"contra","rec":"pre","t":2.89,"v":10.68},{"cat":26,"side":"contra","rec":"pre","t":3.01,"v":8.63},{"cat":26,"side":"contra","rec":"pre","t":3.14,"v":2.86},{"cat":26,"side":"contra","rec":"pre","t":3.25,"v":1.37},{"cat":26,"side":"contra","rec":"pre","t":3.42,"v":3.5},{"cat":26,"side":"contra","rec":"pre","t":3.60,"v":5.85},{"cat":26,"side":"contra","rec":"pre","t":3.77,"v":6.71},{"cat":26,"side":"contra","rec":"pre","t":3.95,"v":5.21},{"cat":26,"side":"contra","rec":"pre","t":4.08,"v":2.56},{"cat":26,"side":"contra","rec":"pre","t":4.39,"v":2.31},{"cat":26,"side":"contra","rec":"pre","t":4.56,"v":2.44},{"cat":26,"side":"contra","rec":"pre","t":4.78,"v":0.94},{"cat":26,"side":"contra","rec":"pre","t":5.09,"v":-1.2},{"cat":26,"side":"contra","rec":"pre","t":5.39,"v":-3.12},{"cat":26,"side":"contra","rec":"pre","t":5.70,"v":-4.4},{"cat":26,"side":"contra","rec":"pre","t":6.01,"v":-4.62},{"cat":26,"side":"contra","rec":"pre","t":6.27,"v":-5.04},{"cat":26,"side":"contra","rec":"pre","t":6.62,"v":-6.75}
],
"peaks":[
{"cat":26,"side":"ipsi","sub":"1a","t":0.51,"v":3.85},{"cat":26,"side":"ipsi","sub":"1b","t":1.16,"v":3.85},{"cat":26,"side":"ipsi","sub":"2","t":1.64,"v":3.85},{"cat":26,"side":"ipsi","sub":"3","t":2.22,"v":7.91},{"cat":26,"side":"ipsi","sub":"4","t":2.98,"v":11.97},{"cat":26,"side":"ipsi","sub":"5","t":3.75,"v":8.55},
{"cat":26,"side":"contra","sub":"1a","t":0.42,"v":3.93},{"cat":26,"side":"contra","sub":"1b","t":1.07,"v":3.29},{"cat":26,"side":"contra","sub":"2","t":1.54,"v":4.87},{"cat":26,"side":"contra","sub":"3","t":2.15,"v":8.42},{"cat":26,"side":"contra","sub":"4","t":2.83,"v":12.14},{"cat":26,"side":"contra","sub":"5","t":3.64,"v":8.42}
],
"arrows":[
{"cat":26,"side":"ipsi","t":0.02,"v":-1.92,"v2":-6.62},
{"cat":26,"side":"contra","t":0,"v":-3.12,"v2":-6.97}
],
"scalebar":[
{"cat":26,"side":"ipsi","t":3.33,"t2":3.33,"v":-2.26,"v2":-7.26},
{"cat":26,"side":"ipsi","t":3.33,"t2":4.33,"v":-7.26,"v2":-7.26}
],
"scaletext":[
{"cat":26,"side":"ipsi","label":"5 μV","t":2.72,"v":-5.34},
{"cat":26,"side":"ipsi","label":"+","t":3.22,"v":-2.56},
{"cat":26,"side":"ipsi","label":"1ms","t":3.73,"v":-8.55}
],
"cats":[
{"cat":7,"label":"Cat 7"},{"cat":8,"label":"Cat 8"},{"cat":5,"label":"Cat 5"},{"cat":17,"label":"Cat 17"},{"cat":23,"label":"Cat 23"},{"cat":26,"label":"Cat 26"}
],
"lesion":[
{"cat":7,"nucleus":"MNTB","pct":100},{"cat":7,"nucleus":"MSO","pct":100},{"cat":7,"nucleus":"LSO","pct":100},
{"cat":8,"nucleus":"MNTB","pct":75},{"cat":8,"nucleus":"MSO","pct":75},{"cat":8,"nucleus":"LSO","pct":95},
{"cat":5,"nucleus":"MNTB","pct":75},{"cat":5,"nucleus":"MSO","pct":86},{"cat":5,"nucleus":"LSO","pct":75},
{"cat":17,"nucleus":"MNTB","pct":26},{"cat":17,"nucleus":"MSO","pct":26},{"cat":17,"nucleus":"LSO","pct":40},
{"cat":23,"nucleus":"MNTB","pct":0},{"cat":23,"nucleus":"MSO","pct":0},{"cat":23,"nucleus":"LSO","pct":85},
{"cat":26,"nucleus":"MNTB","pct":10},{"cat":26,"nucleus":"MSO","pct":45},{"cat":26,"nucleus":"LSO","pct":0}
]
},
"layer":[
{
"data":{"name":"traces"},
"transform":[
{"calculate":"datum.t + (datum.side === 'contra' ? 10.66 : 0)","as":"gx"},
{"calculate":"datum.v + (datum.cat === 7 ? 79.71 : datum.cat === 8 ? 66.88 : datum.cat === 5 ? 51.58 : datum.cat === 17 ? 37.47 : datum.cat === 23 ? 24.58 : 9.19)","as":"gy"}
],
"mark":{"type":"line","interpolate":"monotone","color":"#111"},
"encoding":{
"x":{"field":"gx","type":"quantitative","scale":{"domain":[-4.342,20.632],"nice":false,"zero":false},"axis":null},
"y":{"field":"gy","type":"quantitative","scale":{"domain":[0,98.72],"nice":false,"zero":false},"axis":null},
"detail":[{"field":"cat"},{"field":"side"}],
"strokeDash":{"field":"rec","type":"nominal","scale":{"domain":["post","pre"],"range":[[1,0],[5,3]]},"legend":null},
"strokeWidth":{"field":"rec","type":"nominal","scale":{"domain":["post","pre"],"range":[1.9,1.4]},"legend":null}
}
},
{
"data":{"name":"peaks"},
"transform":[
{"calculate":"datum.t + (datum.side === 'contra' ? 10.66 : 0)","as":"gx"},
{"calculate":"datum.v + 9.19","as":"gy"}
],
"mark":{"type":"text","text":"P","align":"right","baseline":"middle","fontSize":14},
"encoding":{
"x":{"field":"gx","type":"quantitative"},
"y":{"field":"gy","type":"quantitative"}
}
},
{
"data":{"name":"peaks"},
"transform":[
{"calculate":"datum.t + (datum.side === 'contra' ? 10.66 : 0)","as":"gx"},
{"calculate":"datum.v + 9.19","as":"gy"}
],
"mark":{"type":"text","align":"left","baseline":"middle","fontSize":10,"dy":5},
"encoding":{
"x":{"field":"gx","type":"quantitative"},
"y":{"field":"gy","type":"quantitative"},
"text":{"field":"sub"}
}
},
{
"data":{"name":"arrows"},
"transform":[
{"calculate":"datum.t + (datum.side === 'contra' ? 10.66 : 0)","as":"gx"},
{"calculate":"datum.v + 9.19","as":"gy"},
{"calculate":"datum.v2 + 9.19","as":"gy2"}
],
"mark":{"type":"rule","color":"#111","strokeWidth":1.5},
"encoding":{
"x":{"field":"gx","type":"quantitative"},
"y":{"field":"gy","type":"quantitative"},
"y2":{"field":"gy2"}
}
},
{
"data":{"name":"arrows"},
"transform":[
{"calculate":"datum.t + (datum.side === 'contra' ? 10.66 : 0)","as":"gx"},
{"calculate":"datum.v + 9.19","as":"gy"}
],
"mark":{"type":"point","shape":"triangle-up","filled":true,"color":"#111","size":35,"opacity":1,"dy":3},
"encoding":{
"x":{"field":"gx","type":"quantitative"},
"y":{"field":"gy","type":"quantitative"}
}
},
{
"data":{"name":"scalebar"},
"transform":[
{"calculate":"datum.t","as":"gx"},
{"calculate":"datum.t2","as":"gx2"},
{"calculate":"datum.v + 9.19","as":"gy"},
{"calculate":"datum.v2 + 9.19","as":"gy2"}
],
"mark":{"type":"rule","color":"#111","strokeWidth":1.6},
"encoding":{
"x":{"field":"gx","type":"quantitative"},
"x2":{"field":"gx2"},
"y":{"field":"gy","type":"quantitative"},
"y2":{"field":"gy2"}
}
},
{
"data":{"name":"scaletext"},
"transform":[
{"calculate":"datum.v + 9.19","as":"gy"}
],
"mark":{"type":"text","align":"center","baseline":"middle","fontSize":14},
"encoding":{
"x":{"field":"t","type":"quantitative"},
"y":{"field":"gy","type":"quantitative"},
"text":{"field":"label"}
}
},
{
"data":{"name":"cats"},
"transform":[
{"calculate":"(datum.cat === 7 ? 79.71 : datum.cat === 8 ? 66.88 : datum.cat === 5 ? 51.58 : datum.cat === 17 ? 37.47 : datum.cat === 23 ? 24.58 : 9.19)","as":"gy"}
],
"mark":{"type":"text","align":"left","baseline":"middle","fontSize":11},
"encoding":{
"x":{"datum":-3.68,"type":"quantitative"},
"y":{"field":"gy","type":"quantitative"},
"text":{"field":"label"}
}
},
{
"data":{"name":"lesion"},
"transform":[
{"calculate":"(datum.cat === 7 ? 79.71 : datum.cat === 8 ? 66.88 : datum.cat === 5 ? 51.58 : datum.cat === 17 ? 37.47 : datum.cat === 23 ? 24.58 : 9.19) + (datum.nucleus === 'MNTB' ? 5.13 : datum.nucleus === 'MSO' ? 2.95 : 0.77)","as":"gy"}
],
"mark":{"type":"text","align":"left","baseline":"middle","fontSize":11.5,"font":"Liberation Sans","fontWeight":"bold"},
"encoding":{
"x":{"datum":17.92,"type":"quantitative"},
"y":{"field":"gy","type":"quantitative"},
"text":{"field":"nucleus"}
}
},
{
"data":{"name":"lesion"},
"transform":[
{"calculate":"(datum.cat === 7 ? 79.71 : datum.cat === 8 ? 66.88 : datum.cat === 5 ? 51.58 : datum.cat === 17 ? 37.47 : datum.cat === 23 ? 24.58 : 9.19) + (datum.nucleus === 'MNTB' ? 5.13 : datum.nucleus === 'MSO' ? 2.95 : 0.77)","as":"gy"},
{"calculate":"datum.pct + '%'","as":"pctLabel"}
],
"mark":{"type":"text","align":"right","baseline":"middle","fontSize":11.5,"font":"Liberation Sans","fontWeight":"bold"},
"encoding":{
"x":{"datum":20.53,"type":"quantitative"},
"y":{"field":"gy","type":"quantitative"},
"text":{"field":"pctLabel"}
}
},
{
"data":{"values":[{"label":"The effect of unilateral Kainic acid injection into the S.O.C."}]},
"mark":{"type":"text","align":"center","baseline":"middle","fontSize":14.5},
"encoding":{"x":{"datum":8.18,"type":"quantitative"},"y":{"datum":96.8,"type":"quantitative"},"text":{"field":"label"}}
},
{
"data":{"values":[{"label":"Ear Stimulated"}]},
"mark":{"type":"text","align":"center","baseline":"middle","fontSize":18.5,"fontWeight":"bold"},
"encoding":{"x":{"datum":7.95,"type":"quantitative"},"y":{"datum":92.95,"type":"quantitative"},"text":{"field":"label"}}
},
{
"data":{"values":[{"label":"Ipsilateral","pos":-2.87},{"label":"Contralateral","pos":7.89}]},
"mark":{"type":"text","align":"left","baseline":"middle","fontSize":14},
"encoding":{"x":{"field":"pos","type":"quantitative"},"y":{"datum":88.1,"type":"quantitative"},"text":{"field":"label"}}
},
{
"data":{"values":[{"label":"Extent of Lesion"}]},
"mark":{"type":"text","align":"left","baseline":"middle","fontSize":14.5},
"encoding":{"x":{"datum":17.86,"type":"quantitative"},"y":{"datum":88.4,"type":"quantitative"},"text":{"field":"label"}}
},
{
"data":{"values":[{"label":"Extent of Lesion"}]},
"mark":{"type":"rule","color":"#111","strokeWidth":1},
"encoding":{"x":{"datum":17.86,"type":"quantitative"},"x2":{"datum":20.62},"y":{"datum":87.2,"type":"quantitative"}}
}
]
}
